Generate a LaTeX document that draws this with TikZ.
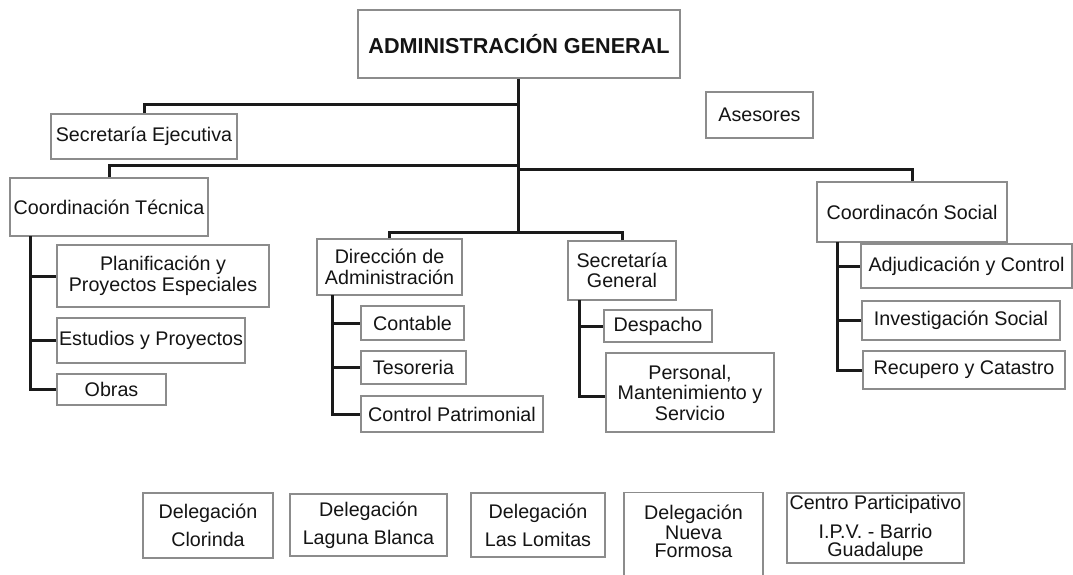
\documentclass[tikz,border=0pt]{standalone}
\usepackage{fontspec}
\setmainfont{Liberation Sans}
\definecolor{boxgray}{HTML}{8C8C8C}
\definecolor{linec}{HTML}{1A1A1A}
\definecolor{txt}{HTML}{141414}
\begin{document}
\begin{tikzpicture}[x=1pt,y=-1pt,
  box/.style={draw=boxgray, line width=1.3pt, inner sep=0pt, align=center, text=txt,
    font=\fontsize{19.7}{20.5}\selectfont},
  plain/.style={inner sep=0pt, align=center, text=txt, font=\fontsize{19.7}{20.5}\selectfont},
  conn/.style={draw=linec, line width=3pt}
]
\useasboundingbox (0,0) rectangle (1073,575);
\fill[white] (0,0) rectangle (1073,575);

% top
\node[box, minimum width=322, minimum height=68, font=\bfseries\fontsize{21.6}{23}\selectfont] (gen) at (519,44) {ADMINISTRACIÓN GENERAL};
\node[box, minimum width=107, minimum height=46] (asesores) at (759.5,115) {Asesores};
\node[box, minimum width=186, minimum height=45] (secej) at (144,136.5) {Secretaría Ejecutiva};
\node[box, minimum width=198, minimum height=58] (coordtec) at (109,207) {Coordinación Técnica};
\node[box, minimum width=190, minimum height=60] (coordsoc) at (912,212) {Coordinacón Social};
\node[box, minimum width=145, minimum height=56] (dir) at (389.5,267) {Dirección de\\Administración};
\node[box, minimum width=108, minimum height=59] (secgen) at (622,270.5) {Secretaría\\General};

% coordinacion tecnica children
\node[box, minimum width=212, minimum height=62] (plan) at (163,276) {Planificación y\\Proyectos Especiales};
\node[box, minimum width=188, minimum height=45] (estud) at (151,340.5) {Estudios y Proyectos};
\node[box, minimum width=109, minimum height=31] (obras) at (111.5,389.5) {Obras};

% direccion children
\node[box, minimum width=103, minimum height=34] (contable) at (412.5,323) {Contable};
\node[box, minimum width=105, minimum height=33] (tesoreria) at (413.5,367.5) {Tesoreria};
\node[box, minimum width=182, minimum height=36] (control) at (452,414) {Control Patrimonial};

% secretaria general children
\node[box, minimum width=108, minimum height=32] (despacho) at (658,326) {Despacho};
\node[box, minimum width=168, minimum height=79] (personal) at (690,392.5) {Personal,\\Mantenimiento y\\Servicio};

% coordinacion social children
\node[box, minimum width=211, minimum height=44] (adjud) at (966.5,266) {Adjudicación y Control};
\node[box, minimum width=198, minimum height=39] (invest) at (961,320.5) {Investigación Social};
\node[box, minimum width=202, minimum height=38] (recup) at (964,370) {Recupero y Catastro};

% delegaciones
\node[box, minimum width=130, minimum height=65] (clorinda) at (208,525.5) {Delegación\\[7.5pt]Clorinda};
\node[box, minimum width=157, minimum height=62] (laguna) at (368.5,525) {Delegación\\[7.5pt]Laguna Blanca};
\node[box, minimum width=134, minimum height=64] (lomitas) at (538,525) {Delegación\\[7.5pt]Las Lomitas};
\node[box, minimum width=139, minimum height=110, anchor=north] (nueva) at (693.5,492) {};
\node[plain] (nuevat) at (693.5,531) {Delegación\\[-0.5pt]Nueva\\[-2.5pt]Formosa};
\node[box, minimum width=177, minimum height=70] (centro) at (875.5,528) {Centro Participativo\\[8.5pt]I.P.V. - Barrio\\[-2.5pt]Guadalupe};

% junctions on the trunk
\coordinate (j1) at (518,105);
\coordinate (j2) at (518,165);
\coordinate (j3) at (518,169);
\coordinate (jb) at (518,232);

% connectors
\draw[conn] (gen.south -| jb) -- (jb);
\draw[conn] (secej.north) |- (j1);
\draw[conn] (coordtec.north) |- (j2);
\draw[conn] (coordsoc.north) |- (j3);
\draw[conn] (dir.north) |- (jb);
\draw[conn] (secgen.north) |- (jb);

\coordinate (ctv) at (30,236);
\draw[conn] (ctv) |- (obras.west);
\draw[conn] (plan.west -| ctv) -- (plan.west);
\draw[conn] (estud.west -| ctv) -- (estud.west);

\coordinate (dv) at (332,295);
\draw[conn] (dv) |- (control.west);
\draw[conn] (contable.west -| dv) -- (contable.west);
\draw[conn] (tesoreria.west -| dv) -- (tesoreria.west);

\coordinate (sv) at (579,300);
\coordinate (pw) at ([yshift=-4pt]personal.west);
\draw[conn] (sv) |- (pw);
\draw[conn] (despacho.west -| sv) -- (despacho.west);

\coordinate (csv) at (837,242);
\draw[conn] (csv) |- (recup.west);
\draw[conn] (adjud.west -| csv) -- (adjud.west);
\draw[conn] (invest.west -| csv) -- (invest.west);
\end{tikzpicture}
\end{document}
